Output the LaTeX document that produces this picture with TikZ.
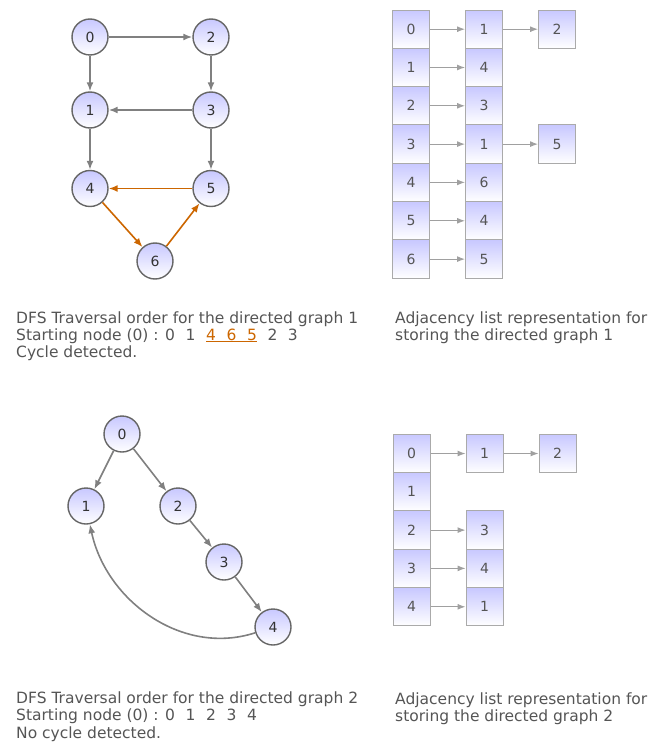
\documentclass[tikz,border=0pt]{standalone}
\usepackage{fontspec}
\setmainfont{DejaVu Sans}
\usetikzlibrary{arrows.meta}

\definecolor{txtgray}{HTML}{555555}
\definecolor{numgray}{HTML}{333333}
\definecolor{ringgray}{HTML}{666666}
\definecolor{edgegray}{HTML}{808080}
\definecolor{boxgray}{HTML}{AAAAAA}
\definecolor{lightarrow}{HTML}{A0A0A0}
\definecolor{dfsorange}{HTML}{CC6600}
\definecolor{topblue}{RGB}{200,200,255}

\newcommand{\dgap}{\hspace{10.6pt}}

\tikzset{
  vertex/.style={circle, draw=ringgray, line width=1.4pt, minimum size=36pt, inner sep=0pt,
    top color=topblue, bottom color=white, text=numgray, font=\fontsize{14}{16}\selectfont},
  cell/.style={rectangle, draw=boxgray, line width=1pt, minimum width=37pt, minimum height=38.3pt,
    inner sep=0pt, top color=topblue, bottom color=white, text=txtgray, font=\fontsize{14}{16}\selectfont},
  edge/.style={->, >={Latex[length=9pt,width=7pt]}, draw=edgegray, line width=1.6pt},
  cycleedge/.style={edge, draw=dfsorange},
  listarrow/.style={->, >={Latex[length=8pt,width=6pt]}, draw=lightarrow, line width=1pt},
  caption/.style={anchor=base west, inner sep=0pt, text=txtgray, font=\fontsize{15.5}{17.5}\selectfont}
}

\begin{document}
\begin{tikzpicture}[x=1pt, y=-1pt]
  \useasboundingbox (0,0) rectangle (651,746);

  % directed graph 1
  \node[vertex] (g0) at (90,37) {0};
  \node[vertex] (g2) at (211,37) {2};
  \node[vertex] (g1) at (90,110) {1};
  \node[vertex] (g3) at (211,110) {3};
  \node[vertex] (g4) at (90,188.5) {4};
  \node[vertex] (g5) at (211,188.5) {5};
  \node[vertex] (g6) at (155,261) {6};
  \draw[edge] (g0) -- (g2);
  \draw[edge] (g0) -- (g1);
  \draw[edge] (g2) -- (g3);
  \draw[edge] (g3) -- (g1);
  \draw[edge] (g1) -- (g4);
  \draw[edge] (g3) -- (g5);
  % the cycle 4 -> 6 -> 5 -> 4
  \draw[cycleedge] (g5) -- (g4);
  \draw[cycleedge] (g4) -- (g6);
  \draw[cycleedge] (g6) -- (g5);

  % adjacency list 1
  \node[cell] (a0) at (411,29.2) {0};
  \node[cell] (a1) at (411,67.5) {1};
  \node[cell] (a2) at (411,105.8) {2};
  \node[cell] (a3) at (411,144.1) {3};
  \node[cell] (a4) at (411,182.4) {4};
  \node[cell] (a5) at (411,220.8) {5};
  \node[cell] (a6) at (411,259.1) {6};
  \node[cell] (b0) at (484,29.2) {1};
  \node[cell] (b1) at (484,67.5) {4};
  \node[cell] (b2) at (484,105.8) {3};
  \node[cell] (b3) at (484,144.1) {1};
  \node[cell] (b4) at (484,182.4) {6};
  \node[cell] (b5) at (484,220.8) {4};
  \node[cell] (b6) at (484,259.1) {5};
  \node[cell] (c0) at (557,29.2) {2};
  \node[cell] (c3) at (557,144.1) {5};
  \draw[listarrow] (a0) -- (b0);
  \draw[listarrow] (a1) -- (b1);
  \draw[listarrow] (a2) -- (b2);
  \draw[listarrow] (a3) -- (b3);
  \draw[listarrow] (a4) -- (b4);
  \draw[listarrow] (a5) -- (b5);
  \draw[listarrow] (a6) -- (b6);
  \draw[listarrow] (b0) -- (c0);
  \draw[listarrow] (b3) -- (c3);

  % captions for graph 1
  \node[caption] (t1a) at (16,323) {DFS Traversal order for the directed graph 1};
  \node[caption] (t1b) at (16,340) {Starting node (0) : 0\dgap 1\dgap{\color{dfsorange}\underline{4\dgap 6\dgap 5}}\dgap 2\dgap 3};
  \node[caption] (t1c) at (16,357.5) {Cycle detected.};
  \node[caption] (l1a) at (395,323) {Adjacency list representation for};
  \node[caption] (l1b) at (395,340) {storing the directed graph 1};

  % directed graph 2
  \node[vertex] (h0) at (122,434) {0};
  \node[vertex] (h1) at (86,506) {1};
  \node[vertex] (h2) at (178,506) {2};
  \node[vertex] (h3) at (224,562) {3};
  \node[vertex] (h4) at (273,627) {4};
  \draw[edge] (h0) -- (h1);
  \draw[edge] (h0) -- (h2);
  \draw[edge] (h2) -- (h3);
  \draw[edge] (h3) -- (h4);
  \draw[edge] (h4) to[out=198, in=-78] (h1);

  % adjacency list 2
  \node[cell] (p0) at (411.5,453.5) {0};
  \node[cell] (p1) at (411.5,491.8) {1};
  \node[cell] (p2) at (411.5,530.1) {2};
  \node[cell] (p3) at (411.5,568.4) {3};
  \node[cell] (p4) at (411.5,606.8) {4};
  \node[cell] (q0) at (484.5,453.5) {1};
  \node[cell] (q2) at (484.5,530.1) {3};
  \node[cell] (q3) at (484.5,568.4) {4};
  \node[cell] (q4) at (484.5,606.8) {1};
  \node[cell] (r0) at (557.5,453.5) {2};
  \draw[listarrow] (p0) -- (q0);
  \draw[listarrow] (q0) -- (r0);
  \draw[listarrow] (p2) -- (q2);
  \draw[listarrow] (p3) -- (q3);
  \draw[listarrow] (p4) -- (q4);

  % captions for graph 2
  \node[caption] (t2a) at (16,703) {DFS Traversal order for the directed graph 2};
  \node[caption] (t2b) at (16,720.5) {Starting node (0) : 0\dgap 1\dgap 2\dgap 3\dgap 4};
  \node[caption] (t2c) at (16,738) {No cycle detected.};
  \node[caption] (l2a) at (395,704) {Adjacency list representation for};
  \node[caption] (l2b) at (395,721) {storing the directed graph 2};
\end{tikzpicture}
\end{document}
